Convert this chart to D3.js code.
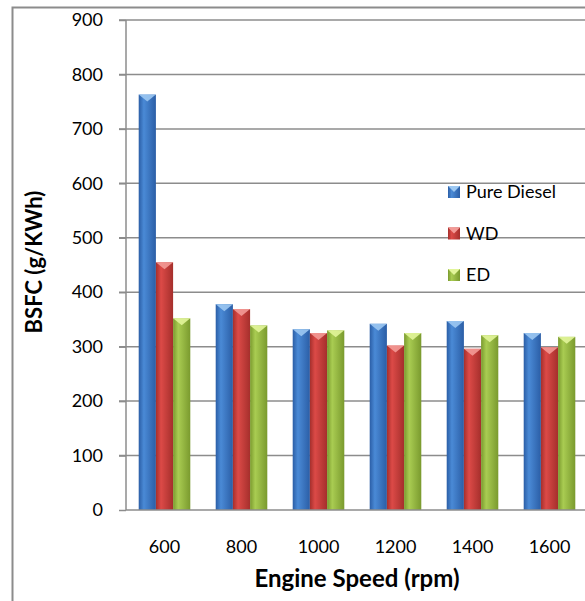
<!DOCTYPE html>
<html>
<head>
<meta charset="utf-8">
<script src="https://cdn.jsdelivr.net/npm/d3@7"></script>
<style>
  body { margin: 0; background: #fff; }
  svg text { font-family: Lato, "Open Sans", sans-serif; fill: #000; }
</style>
</head>
<body>
<div id="chart"></div>
<script>
// Data
const speeds = ["600", "800", "1000", "1200", "1400", "1600"];
const seriesNames = ["Pure Diesel", "WD", "ED"];
const pureDiesel = [763, 378, 332, 342, 347, 325];
const wd = [455, 369, 325, 302, 296, 299];
const ed = [352, 339, 330, 325, 321, 318];
const yTicks = [0, 100, 200, 300, 400, 500, 600, 700, 800, 900];

const seriesValues = [pureDiesel, wd, ed];
const colors = [
    { dark: "#2b5ea6", mid: "#4a8ad6", light: "#9cc8f2" },
    { dark: "#a52f2c", mid: "#dc4a47", light: "#f39a96" },
    { dark: "#7a9a2e", mid: "#a9cc52", light: "#e2f59a" }
];

const width = 585, height = 601;
const margin = { top: 20, right: -3, bottom: 91, left: 126 };
const plotW = width - margin.left - margin.right;
const plotH = height - margin.top - margin.bottom;

const svg = d3.select("#chart").append("svg")
    .attr("width", width)
    .attr("height", height);

// Gradients for the cylinder-ish bars
const defs = svg.append("defs");
colors.forEach((c, i) => {
    const g = defs.append("linearGradient")
        .attr("id", "grad" + i)
        .attr("x1", "0%").attr("x2", "100%").attr("y1", "0%").attr("y2", "0%");
    g.append("stop").attr("offset", "0%").attr("stop-color", c.dark);
    g.append("stop").attr("offset", "30%").attr("stop-color", c.mid);
    g.append("stop").attr("offset", "100%").attr("stop-color", c.dark);
});

// Outer chart border
svg.append("rect")
    .attr("x", 12.5).attr("y", 7.5)
    .attr("width", 600).attr("height", 620)
    .attr("fill", "none")
    .attr("stroke", "#8c8c8c")
    .attr("stroke-width", 2);

const g = svg.append("g")
    .attr("transform", `translate(${margin.left}, ${margin.top})`);

// Scales
const x0 = d3.scaleBand()
    .domain(speeds)
    .range([0, plotW])
    .paddingInner(0.33)
    .paddingOuter(0.165);

const x1 = d3.scaleBand()
    .domain(seriesNames)
    .range([0, x0.bandwidth()]);

const y = d3.scaleLinear()
    .domain([0, 900])
    .range([plotH, 0]);

// Gridlines
g.append("g")
    .selectAll("line")
    .data(yTicks.filter(d => d > 0))
    .enter().append("line")
    .attr("x1", -7).attr("x2", plotW)
    .attr("y1", d => y(d)).attr("y2", d => y(d))
    .attr("stroke", "#8c8c8c")
    .attr("stroke-width", 1.5);

// Bars
seriesNames.forEach((name, si) => {
    const grp = g.append("g");
    const vals = seriesValues[si];

    grp.selectAll("rect")
        .data(vals)
        .enter().append("rect")
        .attr("x", (d, i) => x0(speeds[i]) + x1(name))
        .attr("y", d => y(d))
        .attr("width", x1.bandwidth())
        .attr("height", d => plotH - y(d))
        .attr("fill", `url(#grad${si})`);

    // top bevel
    grp.selectAll("polygon")
        .data(vals)
        .enter().append("polygon")
        .attr("points", (d, i) => {
            const xa = x0(speeds[i]) + x1(name);
            const xb = xa + x1.bandwidth();
            const xm = (xa + xb) / 2;
            const yt = y(d);
            return `${xa},${yt} ${xb},${yt} ${xm},${yt + 7}`;
        })
        .attr("fill", colors[si].light)
        .attr("opacity", 0.9);
});

// Y axis
const yAxis = g.append("g")
    .call(d3.axisLeft(y).tickValues(yTicks).tickSize(7).tickPadding(16));
yAxis.selectAll("path, line").attr("stroke", "#8c8c8c").attr("stroke-width", 1.5);
yAxis.select(".domain").attr("d", `M0,0V${plotH}`);
yAxis.selectAll("text")
    .style("font-family", "Lato, sans-serif")
    .style("font-size", "18px")
    .attr("fill", "#000");

// X axis
const xAxis = g.append("g")
    .attr("transform", `translate(0, ${plotH})`)
    .call(d3.axisBottom(x0).tickSize(0).tickPadding(30));
xAxis.select(".domain").attr("stroke", "#8c8c8c").attr("stroke-width", 1.5)
    .attr("d", `M0,0H${plotW}`);
xAxis.selectAll("text")
    .style("font-family", "Lato, sans-serif")
    .style("font-size", "18px")
    .attr("fill", "#000");

// Axis titles
svg.append("text")
    .attr("x", 357).attr("y", 587)
    .attr("text-anchor", "middle")
    .style("font-size", "24px")
    .style("font-weight", "bold")
    .text("Engine Speed (rpm)");

svg.append("text")
    .attr("transform", "translate(42, 262) rotate(-90)")
    .attr("text-anchor", "middle")
    .style("font-size", "22px")
    .style("font-weight", "bold")
    .text("BSFC (g/KWh)");

// Legend
const legend = svg.append("g").attr("transform", "translate(448, 186)");
seriesNames.forEach((name, i) => {
    const item = legend.append("g").attr("transform", `translate(0, ${i * 41.5})`);
    item.append("rect")
        .attr("width", 12).attr("height", 12)
        .attr("fill", `url(#grad${i})`);
    item.append("polygon")
        .attr("points", "0,0 12,0 6,6")
        .attr("fill", colors[i].light);
    item.append("text")
        .attr("x", 18).attr("y", 12)
        .style("font-size", "18px")
        .text(name);
});
</script>
</body>
</html>
